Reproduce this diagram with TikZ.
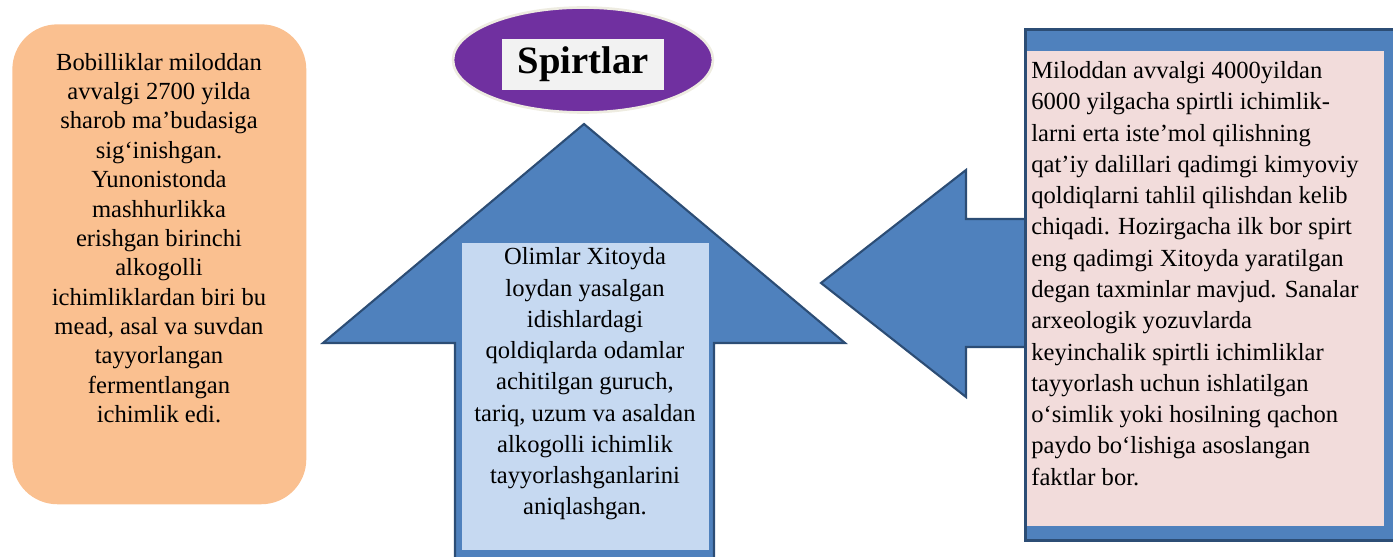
\documentclass[tikz,border=0pt]{standalone}
\usepackage{fontspec}
\setmainfont{Liberation Serif}
\usetikzlibrary{shapes.geometric}
\definecolor{boxorange}{HTML}{FAC090}
\definecolor{arrowblue}{HTML}{4F81BD}
\definecolor{arrowedge}{HTML}{2C4D75}
\definecolor{paleblue}{HTML}{C6D9F1}
\definecolor{palepink}{HTML}{F2DCDB}
\definecolor{titlepurple}{HTML}{7030A0}
\definecolor{titlegrey}{HTML}{F2F2F2}
\definecolor{rimgrey}{HTML}{EEECE1}

\begin{document}
\begin{tikzpicture}[x=0.02cm, y=-0.02cm,
        bigarrow/.style={fill=arrowblue, draw=arrowedge, line width=1.2pt, line join=miter},
        panel/.style={inner sep=0pt, anchor=north west},
        bodytext/.style={inner sep=0pt, font=\fontsize{14}{17.8}\selectfont}]
        \useasboundingbox (0,0) rectangle (1393,557);

        % left panel
        \node[panel, fill=boxorange, rounded corners=0.9cm, minimum width=5.88cm, minimum height=9.6cm] (babylon) at (12,24) {};
        \node[bodytext, align=center, font=\fontsize{14}{16.7}\selectfont] (babylontext) at (159,238) {Bobilliklar miloddan\\avvalgi 2700 yilda\\sharob ma’budasiga\\sig‘inishgan.\\Yunonistonda\\mashhurlikka\\erishgan birinchi\\alkogolli\\ichimliklardan biri bu\\mead, asal va suvdan\\tayyorlangan\\fermentlangan\\ichimlik edi.};

        % title
        \node[ellipse, fill=titlepurple, draw=rimgrey, line width=1.5pt, minimum width=5.2cm, minimum height=2.1cm] (titleshape) at (583,60) {};
        \node[fill=titlegrey, minimum width=3.24cm, minimum height=1.02cm, inner sep=0pt, font=\bfseries\fontsize{22}{26}\selectfont] (title) at (583,64.5) {Spirtlar};

        % up arrow
        \draw[bigarrow] (455,575) -- (455,343) -- (323,343) -- (584,124) -- (845,343) -- (714,343) -- (714,575);
        \node[panel, fill=paleblue, minimum width=4.94cm, minimum height=6.14cm] (chinabox) at (462,243) {};
        \node[bodytext, align=center] (chinatext) at (585,384) {Olimlar Xitoyda\\loydan yasalgan\\idishlardagi\\qoldiqlarda odamlar\\achitilgan guruch,\\tariq, uzum va asaldan\\alkogolli ichimlik\\tayyorlashganlarini\\aniqlashgan.};

        % left arrow and right panel
        \draw[bigarrow] (1030,219) -- (966,219) -- (966,170) -- (821,283) -- (966,397) -- (966,347) -- (1030,347);
        \node[panel, fill=arrowblue, draw=arrowedge, line width=1.5pt, minimum width=7.6cm, minimum height=10.22cm] (evidence) at (1024,28) {};
        \node[panel, fill=palepink, minimum width=7.14cm, minimum height=9.5cm] (evidencebox) at (1027,51) {};
        \node[bodytext, align=left, anchor=west] (evidencetext) at (1031,273.5) {Miloddan avvalgi 4000yildan\\6000 yilgacha spirtli ichimlik-\\larni erta iste’mol qilishning\\qat’iy dalillari qadimgi kimyoviy\\qoldiqlarni tahlil qilishdan kelib\\chiqadi. Hozirgacha ilk bor spirt\\eng qadimgi Xitoyda yaratilgan\\degan taxminlar mavjud. Sanalar\\arxeologik yozuvlarda\\keyinchalik spirtli ichimliklar\\tayyorlash uchun ishlatilgan\\o‘simlik yoki hosilning qachon\\paydo bo‘lishiga asoslangan\\faktlar bor.};
    \end{tikzpicture}
\end{document}
